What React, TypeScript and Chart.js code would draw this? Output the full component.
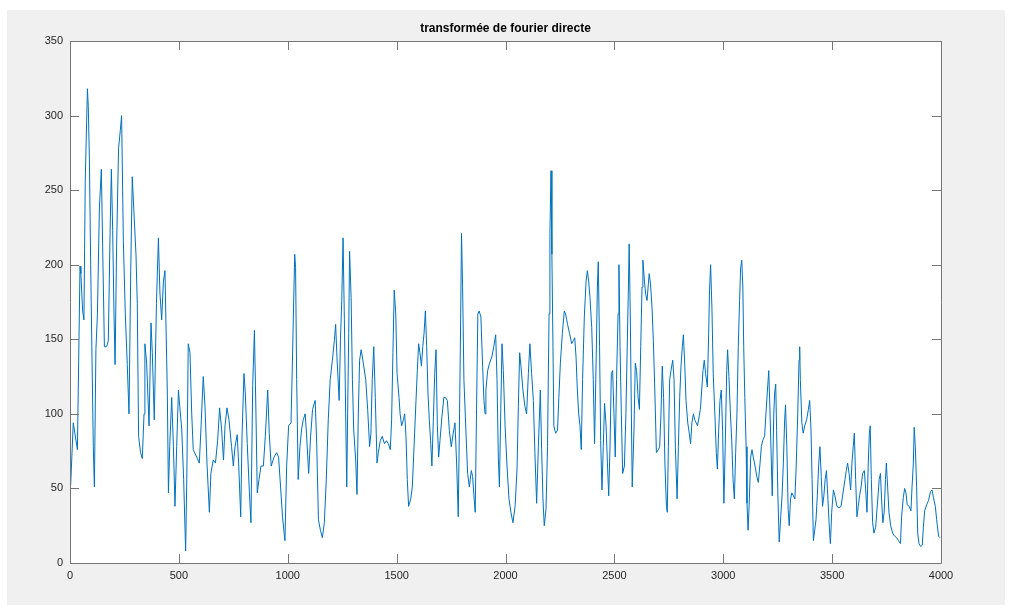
import React, { useEffect, useRef } from "react";
import { Chart, registerables } from "chart.js";

Chart.register(...registerables);

const chartTitle = "transformée de fourier directe";
const xTicks = [0, 500, 1000, 1500, 2000, 2500, 3000, 3500, 4000];
const yTicks = [0, 50, 100, 150, 200, 250, 300, 350];

// Sample positions along the frequency axis
const freq = [
  3, 15, 34, 46, 50, 58, 64, 70, 80, 84, 89, 95, 101, 107, 112, 119, 126, 135, 144, 150,
  158, 168, 176, 184, 190, 196, 202, 207, 214, 223, 231, 237, 245, 254, 263, 271, 279, 286, 294, 303,
  309, 315, 324, 332, 340, 344, 352, 363, 372, 378, 387, 397, 406, 413, 421, 429, 436, 442, 447, 452,
  458, 467, 475, 482, 490, 498, 504, 513, 522, 531, 537, 543, 551, 559, 566, 582, 594, 602, 612, 620,
  629, 640, 647, 658, 668, 678, 687, 696, 705, 712, 721, 730, 742, 750, 758, 768, 775, 784, 790, 799,
  805, 814, 824, 831, 839, 847, 854, 860, 868, 877, 888, 897, 908, 915, 924, 937, 949, 958, 967, 976,
  987, 995, 1004, 1015, 1021, 1026, 1032, 1036, 1041, 1048, 1056, 1064, 1071, 1080, 1086, 1096, 1105, 1114, 1126, 1133,
  1141, 1150, 1159, 1168, 1177, 1186, 1195, 1205, 1214, 1220, 1226, 1236, 1242, 1248, 1254, 1260, 1266, 1271, 1275, 1280,
  1284, 1291, 1297, 1303, 1312, 1318, 1324, 1330, 1337, 1347, 1358, 1367, 1376, 1382, 1388, 1395, 1402, 1410, 1416, 1425,
  1434, 1444, 1453, 1462, 1471, 1477, 1483, 1489, 1496, 1502, 1511, 1516, 1523, 1531, 1537, 1543, 1549, 1555, 1565, 1572,
  1580, 1589, 1595, 1601, 1607, 1614, 1620, 1626, 1632, 1638, 1644, 1650, 1656, 1662, 1669, 1675, 1681, 1687, 1693, 1699,
  1708, 1717, 1724, 1733, 1742, 1751, 1760, 1768, 1776, 1783, 1789, 1794, 1798, 1803, 1809, 1818, 1826, 1834, 1843, 1849,
  1855, 1861, 1867, 1873, 1879, 1887, 1895, 1901, 1906, 1910, 1918, 1927, 1937, 1946, 1955, 1961, 1967, 1972, 1978, 1984,
  1990, 1998, 2007, 2016, 2025, 2034, 2044, 2053, 2059, 2065, 2071, 2080, 2089, 2097, 2105, 2112, 2120, 2128, 2135, 2143,
  2151, 2160, 2166, 2172, 2178, 2186, 2193, 2200, 2204, 2209, 2213, 2218, 2222, 2230, 2239, 2245, 2252, 2261, 2270, 2276,
  2285, 2294, 2304, 2311, 2318, 2324, 2330, 2336, 2342, 2348, 2354, 2362, 2370, 2376, 2382, 2388, 2396, 2403, 2409, 2416,
  2422, 2426, 2432, 2437, 2443, 2449, 2455, 2462, 2468, 2474, 2480, 2486, 2492, 2498, 2504, 2510, 2517, 2521, 2526, 2532,
  2538, 2546, 2553, 2559, 2565, 2568, 2573, 2578, 2582, 2590, 2596, 2602, 2609, 2615, 2621, 2627, 2631, 2638, 2644, 2650,
  2656, 2660, 2666, 2673, 2679, 2686, 2693, 2702, 2708, 2714, 2720, 2726, 2732, 2739, 2743, 2748, 2754, 2760, 2768, 2774,
  2780, 2788, 2794, 2800, 2806, 2812, 2817, 2823, 2829, 2837, 2844, 2850, 2856, 2863, 2869, 2876, 2882, 2889, 2895, 2901,
  2907, 2913, 2919, 2927, 2933, 2937, 2942, 2948, 2954, 2962, 2968, 2973, 2979, 2985, 2991, 2997, 3003, 3009, 3016, 3020,
  3026, 3033, 3039, 3045, 3051, 3057, 3063, 3069, 3075, 3080, 3085, 3090, 3094, 3099, 3105, 3109, 3114, 3120, 3126, 3132,
  3138, 3146, 3154, 3161, 3169, 3175, 3181, 3190, 3196, 3203, 3209, 3215, 3221, 3225, 3232, 3236, 3241, 3245, 3251, 3257,
  3264, 3270, 3276, 3282, 3286, 3292, 3298, 3303, 3309, 3315, 3322, 3329, 3335, 3342, 3348, 3351, 3354, 3361, 3367, 3374,
  3383, 3391, 3397, 3403, 3408, 3414, 3420, 3426, 3432, 3438, 3444, 3450, 3456, 3462, 3468, 3474, 3480, 3486, 3492, 3498,
  3506, 3513, 3522, 3531, 3541, 3550, 3559, 3565, 3571, 3578, 3585, 3591, 3597, 3602, 3608, 3614, 3620, 3626, 3633, 3640,
  3648, 3654, 3660, 3666, 3671, 3675, 3680, 3686, 3692, 3700, 3706, 3712, 3716, 3722, 3727, 3733, 3739, 3745, 3749, 3755,
  3761, 3769, 3778, 3787, 3796, 3805, 3814, 3819, 3827, 3833, 3839, 3845, 3854, 3862, 3867, 3873, 3877, 3882, 3888, 3893,
  3899, 3907, 3914, 3919, 3925, 3934, 3943, 3952, 3959, 3965, 3974, 3980, 3989, 3995,
];

// Spectrum magnitude at each sample position
const amplitude = [
  52, 94, 76, 199, 194, 169, 163, 256, 318, 306, 271, 200, 138, 78, 51, 143, 167, 238, 264, 212,
  145, 145, 149, 221, 264, 223, 167, 133, 212, 278, 290, 300, 216, 167, 133, 100, 197, 259, 234, 207,
  174, 85, 74, 70, 100, 147, 134, 92, 161, 141, 96, 174, 218, 181, 163, 189, 196, 151, 114, 47,
  78, 111, 78, 38, 78, 116, 105, 90, 56, 8, 63, 147, 141, 100, 76, 71, 67, 92, 125, 105,
  67, 34, 60, 69, 67, 82, 104, 90, 69, 92, 104, 96, 78, 65, 78, 86, 65, 31, 85, 127,
  114, 80, 47, 27, 119, 156, 100, 47, 56, 65, 65, 85, 116, 87, 65, 71, 74, 71, 51, 31,
  15, 65, 92, 94, 132, 167, 207, 198, 123, 56, 78, 90, 96, 100, 87, 60, 85, 103, 109, 80,
  29, 22, 17, 27, 56, 96, 123, 136, 149, 160, 138, 109, 149, 176, 218, 163, 100, 51, 100, 154,
  209, 178, 123, 89, 69, 46, 100, 136, 143, 134, 123, 103, 78, 87, 123, 145, 111, 67, 74, 82,
  85, 80, 82, 80, 76, 96, 141, 183, 167, 127, 111, 100, 92, 96, 100, 85, 56, 38, 43, 51,
  78, 109, 129, 147, 141, 132, 145, 154, 169, 145, 114, 96, 82, 65, 98, 127, 143, 92, 71, 82,
  98, 111, 111, 109, 89, 78, 87, 94, 65, 31, 100, 163, 221, 185, 123, 89, 60, 51, 62, 58,
  45, 34, 103, 167, 169, 165, 132, 109, 100, 116, 129, 134, 138, 145, 153, 123, 71, 51, 100, 147,
  129, 92, 65, 43, 34, 27, 38, 63, 105, 141, 132, 116, 105, 100, 127, 147, 127, 109, 74, 40,
  78, 116, 76, 43, 25, 36, 78, 167, 221, 263, 207, 145, 92, 87, 89, 111, 134, 154, 169, 167,
  160, 154, 147, 149, 151, 138, 116, 100, 92, 76, 123, 165, 189, 196, 189, 178, 158, 123, 80, 134,
  185, 202, 145, 82, 49, 78, 107, 92, 67, 45, 78, 127, 129, 100, 71, 123, 167, 200, 145, 100,
  60, 65, 100, 145, 189, 214, 167, 100, 51, 89, 134, 129, 111, 103, 145, 185, 203, 189, 180, 176,
  187, 194, 187, 171, 149, 114, 74, 76, 78, 100, 132, 111, 67, 38, 34, 78, 123, 129, 136, 123,
  78, 43, 78, 111, 132, 145, 153, 134, 109, 94, 87, 80, 94, 100, 96, 94, 92, 98, 103, 116,
  129, 136, 127, 118, 154, 183, 200, 171, 127, 98, 74, 63, 89, 109, 116, 89, 40, 78, 129, 143,
  125, 100, 82, 56, 43, 74, 100, 145, 176, 198, 203, 185, 145, 111, 78, 40, 22, 43, 71, 76,
  71, 65, 58, 54, 67, 78, 82, 85, 100, 116, 129, 100, 67, 45, 100, 114, 120, 89, 45, 14,
  31, 45, 67, 96, 106, 78, 36, 25, 43, 47, 45, 43, 65, 100, 136, 145, 123, 94, 87, 92,
  96, 103, 109, 89, 56, 15, 22, 29, 45, 65, 78, 58, 38, 45, 56, 62, 45, 27, 13, 34,
  49, 45, 38, 37, 38, 47, 56, 62, 67, 60, 49, 67, 78, 87, 56, 31, 38, 45, 51, 60,
  62, 49, 34, 67, 87, 92, 56, 27, 20, 24, 36, 47, 56, 60, 43, 27, 34, 56, 67, 51,
  34, 25, 20, 18, 17, 15, 13, 31, 44, 50, 47, 39, 38, 35, 51, 67, 91, 78, 51, 20,
  13, 11, 12, 24, 35, 39, 42, 48, 49, 44, 38, 29, 18, 17,
];

const FONT = "'Liberation Sans', Arial, Helvetica, sans-serif";
const AXIS_COLOR = "#767676";
const LABEL_COLOR = "#262626";
const TICK_LEN = 9;

// Draws the figure backdrop, the boxed axes with inward ticks, and the title
const figureFrame = {
  id: "figureFrame",
  beforeDraw(chart: any) {
    const { ctx, chartArea, width, height } = chart;
    ctx.save();
    ctx.fillStyle = "#ffffff";
    ctx.fillRect(0, 0, width, height);
    ctx.fillStyle = "#f0f0f0";
    ctx.fillRect(7, 10, 998, 595);
    ctx.fillStyle = "#ffffff";
    ctx.fillRect(chartArea.left, chartArea.top, chartArea.right - chartArea.left, chartArea.bottom - chartArea.top);
    ctx.restore();
  },
  afterDraw(chart: any) {
    const { ctx, chartArea } = chart;
    const { left, right, top, bottom } = chartArea;
    const xs = chart.scales.x;
    const ys = chart.scales.y;
    ctx.save();
    ctx.strokeStyle = AXIS_COLOR;
    ctx.lineWidth = 1;
    ctx.beginPath();
    ctx.rect(Math.round(left) + 0.5, Math.round(top) + 0.5, Math.round(right - left), Math.round(bottom - top));
    ctx.stroke();
    ctx.beginPath();
    for (const v of xTicks) {
      const px = Math.round(xs.getPixelForValue(v)) + 0.5;
      ctx.moveTo(px, bottom);
      ctx.lineTo(px, bottom - TICK_LEN);
      ctx.moveTo(px, top);
      ctx.lineTo(px, top + TICK_LEN);
    }
    for (const v of yTicks) {
      const py = Math.round(ys.getPixelForValue(v)) + 0.5;
      ctx.moveTo(left, py);
      ctx.lineTo(left + TICK_LEN, py);
      ctx.moveTo(right, py);
      ctx.lineTo(right - TICK_LEN, py);
    }
    ctx.stroke();
    ctx.fillStyle = "#000000";
    ctx.font = `bold 12px ${FONT}`;
    ctx.textAlign = "center";
    ctx.textBaseline = "middle";
    ctx.fillText(chartTitle, (left + right) / 2, 29);
    ctx.restore();
  },
};

export default function App() {
  const canvasRef = useRef<HTMLCanvasElement | null>(null);

  useEffect(() => {
    const canvas = canvasRef.current;
    if (!canvas) return;
    const points = freq.map((f, i) => ({ x: f, y: amplitude[i] }));
    const chart = new Chart(canvas, {
      type: "line",
      data: {
        datasets: [
          {
            data: points,
            borderColor: "#0072BD",
            borderWidth: 1,
            pointRadius: 0,
            tension: 0,
            fill: false,
          },
        ],
      },
      options: {
        animation: false,
        responsive: false,
        maintainAspectRatio: false,
        layout: { padding: { left: 0, right: 72, top: 41, bottom: 24 } },
        plugins: {
          legend: { display: false },
          title: { display: false },
          tooltip: { enabled: false },
        },
        scales: {
          x: {
            type: "linear",
            min: 0,
            max: 4000,
            afterBuildTicks: (scale: any) => {
              scale.ticks = xTicks.map((v) => ({ value: v }));
            },
            afterFit: (scale: any) => {
              scale.height = 25;
            },
            grid: { display: false, drawTicks: false },
            border: { display: false },
            ticks: {
              color: LABEL_COLOR,
              font: { family: FONT, size: 11 },
              padding: 6,
              maxRotation: 0,
              autoSkip: false,
              callback: (value: any) => String(value),
            },
          },
          y: {
            type: "linear",
            min: 0,
            max: 350,
            afterBuildTicks: (scale: any) => {
              scale.ticks = yTicks.map((v) => ({ value: v }));
            },
            afterFit: (scale: any) => {
              scale.width = 70;
            },
            grid: { display: false, drawTicks: false },
            border: { display: false },
            ticks: {
              color: LABEL_COLOR,
              font: { family: FONT, size: 11 },
              padding: 7,
              autoSkip: false,
              callback: (value: any) => String(value),
            },
          },
        },
      },
      plugins: [figureFrame],
    });
    return () => chart.destroy();
  }, []);

  return (
    <div style={{ position: "absolute", left: 0, top: 0, width: 1013, height: 612 }}>
      <canvas ref={canvasRef} width={1013} height={612} style={{ display: "block", width: 1013, height: 612 }} />
    </div>
  );
}
